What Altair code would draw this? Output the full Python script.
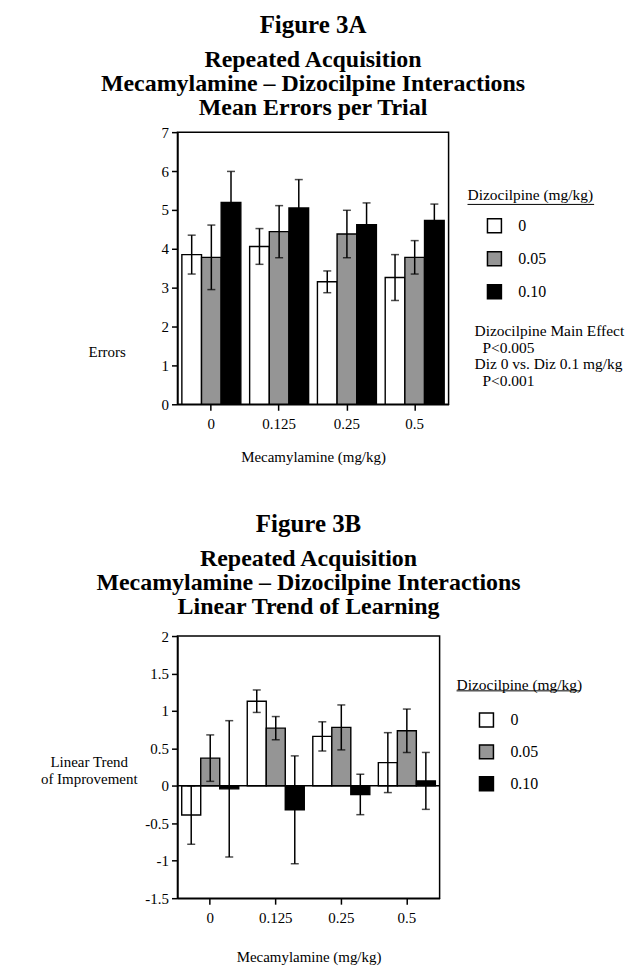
import altair as alt
import pandas as pd

# ---------------- data ----------------
mecamylamine = ["0", "0.125", "0.25", "0.5"]
dizocilpine = ["0", "0.05", "0.10"]

# Figure 3A: mean errors per trial (+/- SEM)
errors_mean_0 = [3.85, 4.06, 3.15, 3.26]
errors_mean_005 = [3.78, 4.44, 4.38, 3.78]
errors_mean_010 = [5.19, 5.05, 4.62, 4.73]
errors_sem_0 = [0.50, 0.46, 0.28, 0.59]
errors_sem_005 = [0.83, 0.67, 0.61, 0.43]
errors_sem_010 = [0.80, 0.73, 0.56, 0.42]

# Figure 3B: linear trend of improvement (+/- SEM)
trend_mean_0 = [-0.39, 1.13, 0.66, 0.31]
trend_mean_005 = [0.37, 0.77, 0.78, 0.735]
trend_mean_010 = [-0.04, -0.32, -0.115, 0.066]
trend_sem_0 = [0.39, 0.15, 0.195, 0.40]
trend_sem_005 = [0.31, 0.155, 0.30, 0.29]
trend_sem_010 = [0.91, 0.72, 0.27, 0.38]

errors_ticks = [0, 1, 2, 3, 4, 5, 6, 7]
trend_ticks = [-1.5, -1, -0.5, 0, 0.5, 1, 1.5, 2]

note_main = ["Dizocilpine Main Effect", "Diz 0 vs. Diz 0.1 mg/kg"]
note_sub = ["P<0.005", "P<0.001"]
legend_title = "Dizocilpine (mg/kg)"
fill_colors = ["white", "#959595", "black"]


def make_df(means, sems):
    rows = []
    for d, m_list, s_list in zip(dizocilpine, means, sems):
        for mec, m, s in zip(mecamylamine, m_list, s_list):
            rows.append({"mec": mec, "diz": d, "mean": m, "lo": m - s, "hi": m + s})
    return pd.DataFrame(rows)


errors_df = make_df([errors_mean_0, errors_mean_005, errors_mean_010],
                    [errors_sem_0, errors_sem_005, errors_sem_010])
trend_df = make_df([trend_mean_0, trend_mean_005, trend_mean_010],
                   [trend_sem_0, trend_sem_005, trend_sem_010])
one_row = pd.DataFrame({"k": [0]})

FONT = "Liberation Serif"


def panel(df, domain, ticks, width, height, title, subtitle, title_offset, ytitle,
          ytitle_x, ytitle_y, label_pad, title_pad, legend_x, legend_y,
          legend_title_pad, row_pad, sym_offset, underline, zero_line=False,
          note=None):
    x = alt.X("mec:N", sort=mecamylamine,
              scale=alt.Scale(paddingInner=0.13, paddingOuter=0.065),
              axis=alt.Axis(title="Mecamylamine (mg/kg)", labelAngle=0,
                            labelPadding=label_pad, titlePadding=title_pad))
    xo = alt.XOffset("diz:N", sort=dizocilpine,
                     scale=alt.Scale(paddingInner=0, paddingOuter=0))
    y_axis = alt.Axis(values=ticks, title=ytitle, titleAngle=0,
                      titleAlign="center", titleBaseline="alphabetic",
                      titleX=ytitle_x, titleY=ytitle_y, titleLineHeight=16.6,
                      labelPadding=3, labelOverlap=False,
                      labelExpr="toString(datum.value)")
    y_scale = alt.Scale(domain=domain, nice=False, zero=False)

    def Y(field):
        return alt.Y(field, scale=y_scale, axis=y_axis)

    bars = alt.Chart(df).mark_bar(stroke="black", strokeWidth=1.4).encode(
        x=x, xOffset=xo,
        y=Y("mean:Q"),
        y2=alt.Y2(datum=0),
        fill=alt.Fill("diz:N", sort=dizocilpine,
                      scale=alt.Scale(domain=dizocilpine, range=fill_colors),
                      legend=alt.Legend(
                          title=legend_title, orient="none",
                          legendX=legend_x, legendY=legend_y,
                          symbolType="square", symbolSize=196,
                          symbolStrokeColor="black", symbolStrokeWidth=1.5,
                          symbolOffset=sym_offset, labelOffset=16,
                          rowPadding=row_pad, titlePadding=legend_title_pad,
                          padding=0,
                          titleFont=FONT, titleFontSize=15.5,
                          titleFontWeight="normal", titleColor="black",
                          labelFont=FONT, labelFontSize=16, labelColor="black")),
    )
    rules = alt.Chart(df).mark_rule(color="black", strokeWidth=1.5).encode(
        x=x, xOffset=xo, y=Y("lo:Q"), y2="hi:Q")
    cap_hi = alt.Chart(df).mark_tick(color="black", size=8, thickness=1.5).encode(
        x=x, xOffset=xo, y=Y("hi:Q"))
    cap_lo = alt.Chart(df).mark_tick(color="black", size=8, thickness=1.5).encode(
        x=x, xOffset=xo, y=Y("lo:Q"))
    uline = alt.Chart(one_row).mark_rule(color="black", strokeWidth=1).encode(
        x=alt.value(underline[0]), x2=alt.value(underline[1]),
        y=alt.value(underline[2]))
    layers = [bars, rules, cap_hi, cap_lo, uline]
    if zero_line:
        layers.insert(1, alt.Chart(one_row).mark_rule(color="black", strokeWidth=1.5)
                      .encode(y=alt.Y(datum=0, scale=y_scale, axis=y_axis)))
    if note is not None:
        text_style = dict(align="left", baseline="alphabetic", font=FONT,
                          fontSize=15.5, lineHeight=33.2, color="black")
        layers.append(alt.Chart(one_row).mark_text(**text_style).encode(
            x=alt.value(note[0]), y=alt.value(note[1]),
            text=alt.value(note_main)))
        layers.append(alt.Chart(one_row).mark_text(**text_style).encode(
            x=alt.value(note[0] + 8), y=alt.value(note[1] + 16.6),
            text=alt.value(note_sub)))
    return alt.layer(*layers).properties(
        width=width, height=height,
        title=alt.TitleParams(
            text=title, subtitle=subtitle, anchor="middle", frame="group",
            font=FONT, fontSize=25, fontWeight="bold", color="black",
            subtitleFont=FONT, subtitleFontSize=24, subtitleFontWeight="bold",
            subtitleColor="black", subtitleLineHeight=24,
            subtitlePadding=10, offset=title_offset),
    )


top = panel(errors_df, [0, 7], errors_ticks, 272, 273, "Figure 3A",
            ["Repeated Acquisition", "Mecamylamine \u2013 Dizocilpine Interactions",
             "Mean Errors per Trial"], 5,
            "Errors", -71, 225, 6, 18, 291, 56.5, 14, 13.1, 19,
            (291, 418, 72.5), zero_line=False, note=(298, 204.5))
bottom = panel(trend_df, [-1.5, 2], trend_ticks, 263, 263, "Figure 3B",
               ["Repeated Acquisition", "Mecamylamine \u2013 Dizocilpine Interactions",
                "Linear Trend of Learning"], 10.5,
               ["Linear Trend", "of Improvement"], -89, 131, 6, 25, 280, 42, 18.7, 12, 22,
               (280, 404, 55), zero_line=True)

chart = alt.vconcat(top, bottom, spacing=45.5).resolve_scale(
    x="independent", y="independent", fill="independent", xOffset="independent"
).resolve_legend(fill="independent").configure_axis(
    domainColor="black", domainWidth=1.5, tickColor="black", tickWidth=1.5,
    tickSize=6, labelColor="black", labelFont=FONT, labelFontSize=15,
    titleFont=FONT, titleFontSize=15, titleFontWeight="normal",
    titleColor="black", grid=False,
).configure_view(stroke="black", strokeWidth=1.5).properties(
    padding={"left": 31, "top": 3, "right": 5, "bottom": 5},
    background="white",
)

chart.save("out.html", embed_options={"renderer": "svg", "actions": False})
